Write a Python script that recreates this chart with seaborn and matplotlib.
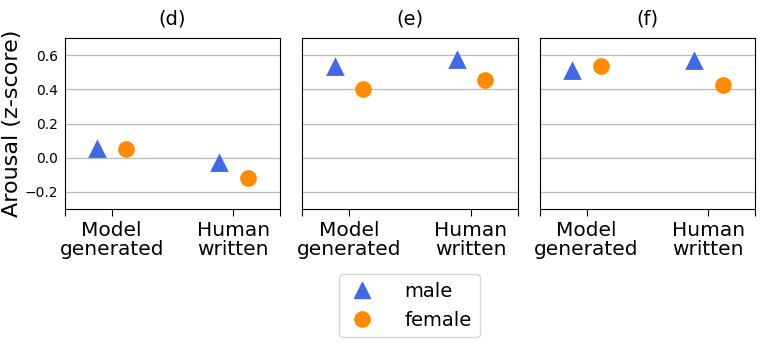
import pandas as pd
import seaborn as sns
import matplotlib.pyplot as plt
from matplotlib.lines import Line2D

sources = ['Model\ngenerated', 'Human\nwritten']
genders = ['male', 'female']
panels = ['(d)', '(e)', '(f)']

# arousal z-scores, [model, human] per gender
male_d = [0.05, -0.03]
female_d = [0.05, -0.12]
male_e = [0.53, 0.57]
female_e = [0.40, 0.455]
male_f = [0.505, 0.565]
female_f = [0.535, 0.425]

values = {
    '(d)': (male_d, female_d),
    '(e)': (male_e, female_e),
    '(f)': (male_f, female_f),
}

palette = {'male': '#4169E1', 'female': '#FF8C00'}
markers = ['^', 'o']


def make_df(panel):
    m, f = values[panel]
    rows = []
    for g, vals in zip(genders, (m, f)):
        for s, v in zip(sources, vals):
            rows.append({'source': s, 'gender': g, 'arousal': v})
    return pd.DataFrame(rows)


sns.set_style('white')
plt.rcParams['font.family'] = ['DejaVu Sans']
plt.rcParams['text.color'] = 'black'
plt.rcParams['xtick.color'] = 'black'
plt.rcParams['ytick.color'] = 'black'
plt.rcParams['axes.labelcolor'] = 'black'

fig, axes = plt.subplots(1, 3, figsize=(7.62, 3.47), dpi=100, sharey=True)
fig.subplots_adjust(left=0.085, right=0.991, top=0.89, bottom=0.398, wspace=0.102)

for ax, panel in zip(axes, panels):
    df = make_df(panel)
    sns.pointplot(data=df, x='source', y='arousal', hue='gender',
                  order=sources, hue_order=genders, palette=palette,
                  markers=markers, linestyles='none', dodge=0.235,
                  errorbar=None, markersize=10, ax=ax)
    ax.get_legend().remove()
    ax.set_xlim(-0.385, 1.385)
    ax.set_ylim(-0.3, 0.7)
    ax.set_yticks([-0.2, 0.0, 0.2, 0.4, 0.6])
    ax.set_xticks([0, 1])
    ax.set_xticklabels(sources, fontsize=14.5, linespacing=1.0)
    ax.set_xticks([-0.385, 1.385], minor=True)
    ax.tick_params(axis='x', which='both', length=5, width=0.8, direction='out',
                   bottom=True, color='black', pad=4)
    ax.tick_params(axis='y', labelsize=10, left=False, length=0, pad=5)
    ax.yaxis.grid(True, color='#bbbbbb', linewidth=0.9)
    ax.set_axisbelow(True)
    ax.set_xlabel('')
    ax.set_ylabel('')
    ax.set_title(panel, fontsize=14, pad=10)
    for sp in ax.spines.values():
        sp.set_color('black')
        sp.set_linewidth(0.8)

axes[0].set_ylabel('Arousal (z-score)', fontsize=16)
axes[0].yaxis.set_label_coords(-0.2, 0.5)

handles = [Line2D([], [], linestyle='none', marker=mk, color=palette[g], markersize=11)
           for g, mk in zip(genders, markers)]
fig.legend(handles, genders, loc='lower center', bbox_to_anchor=(0.537, 0.0),
           fontsize=14, frameon=True, handletextpad=1.4, borderpad=0.4,
           labelspacing=0.5, handlelength=1.6)

plt.savefig('out.png', dpi=100)
